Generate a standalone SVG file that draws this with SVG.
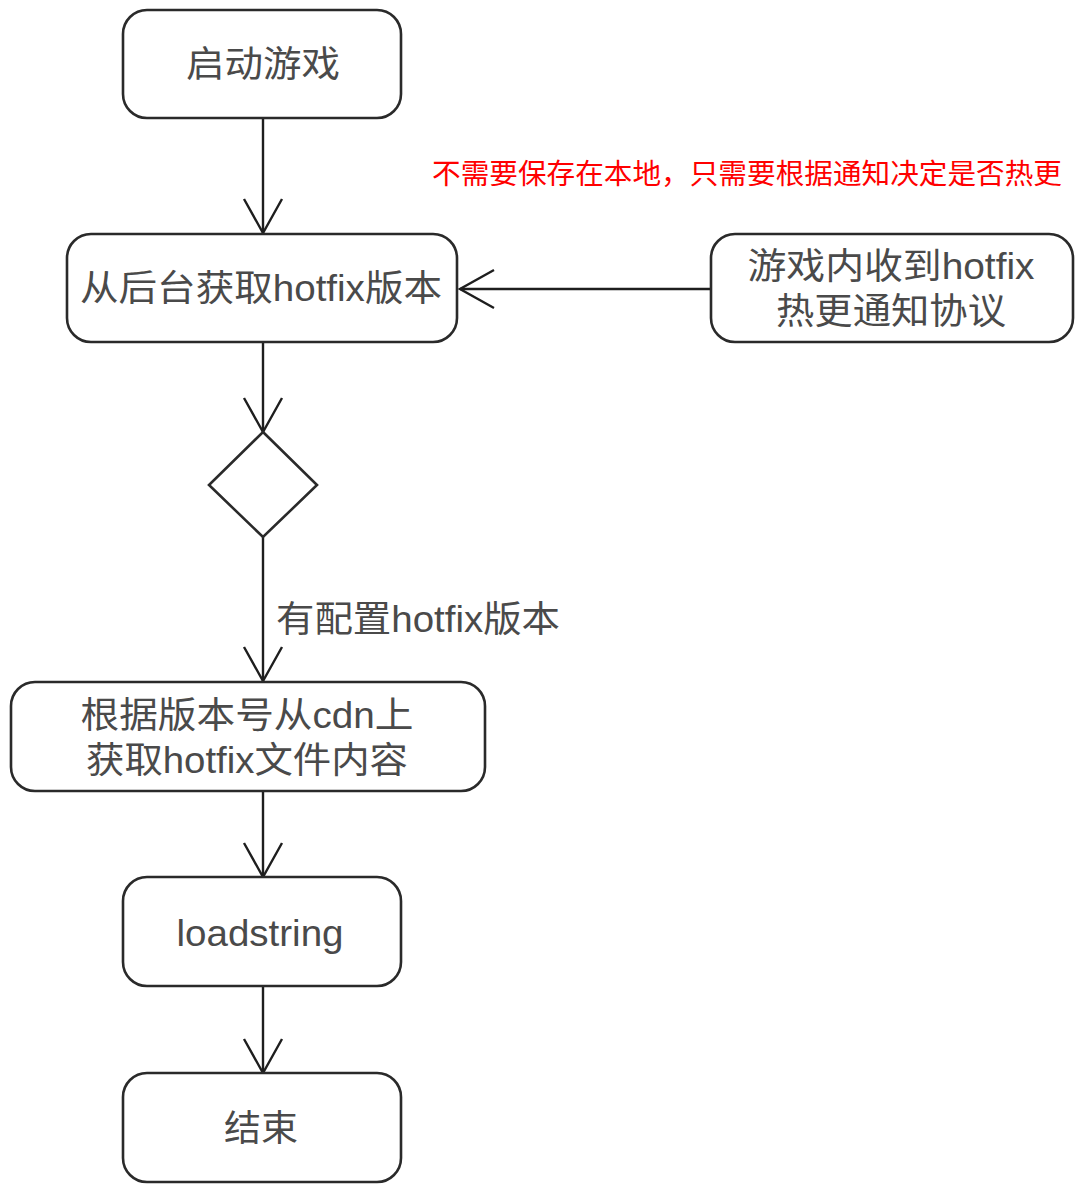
<svg xmlns="http://www.w3.org/2000/svg" width="1082" height="1190" viewBox="0 0 1082 1190">
  <style>
    .box { fill: #ffffff; stroke: #2a2a2a; stroke-width: 2.6; }
    .edge { fill: none; stroke: #1e1e1e; stroke-width: 2.4; }
    .lbl { font-family: "Liberation Sans", "Noto Sans CJK SC", sans-serif; font-size: 36px; fill: #4a4a4a; text-anchor: middle; dominant-baseline: central; }
    .note { font-family: "Noto Sans CJK SC", sans-serif; font-size: 28px; fill: #ff0000; dominant-baseline: central; }
  </style>
  <defs>
    <marker id="open-arrow" viewBox="-36 -21 38 42" markerWidth="38" markerHeight="42" refX="0" refY="0" orient="auto" markerUnits="userSpaceOnUse">
      <path d="M -34 -19 L 0 0 L -34 19" fill="none" stroke="#1e1e1e" stroke-width="2.4"/>
    </marker>
  </defs>
  <rect width="1082" height="1190" fill="#ffffff"/>

  <!-- connectors -->
  <g id="connectors">
    <line class="edge" x1="263" y1="118" x2="263" y2="233" marker-end="url(#open-arrow)"/>
    <line class="edge" x1="711" y1="289" x2="460" y2="289" marker-end="url(#open-arrow)"/>
    <line class="edge" x1="263" y1="342" x2="263" y2="432" marker-end="url(#open-arrow)"/>
    <line class="edge" x1="263" y1="537" x2="263" y2="681" marker-end="url(#open-arrow)"/>
    <line class="edge" x1="263" y1="791" x2="263" y2="877" marker-end="url(#open-arrow)"/>
    <line class="edge" x1="263" y1="986" x2="263" y2="1073" marker-end="url(#open-arrow)"/>
    <text class="lbl" x="418" y="619" textLength="284" lengthAdjust="spacingAndGlyphs">有配置hotfix版本</text>
  </g>

  <!-- nodes -->
  <g id="start">
    <rect class="box" x="123" y="10" width="278" height="108" rx="24"/>
    <text class="lbl" x="263" y="64" textLength="154" lengthAdjust="spacingAndGlyphs">启动游戏</text>
  </g>
  <g id="fetch-version">
    <rect class="box" x="67" y="234" width="390" height="108" rx="24"/>
    <text class="lbl" x="261" y="288" textLength="362" lengthAdjust="spacingAndGlyphs">从后台获取hotfix版本</text>
  </g>
  <g id="notify">
    <rect class="box" x="711" y="234" width="362" height="108" rx="24"/>
    <text class="lbl" x="891" y="266" textLength="287" lengthAdjust="spacingAndGlyphs">游戏内收到hotfix</text>
    <text class="lbl" x="891" y="311" textLength="230" lengthAdjust="spacingAndGlyphs">热更通知协议</text>
  </g>
  <g id="decision">
    <polygon class="box" points="263,432 317,485 263,537 209,485"/>
  </g>
  <g id="download">
    <rect class="box" x="11" y="682" width="474" height="109" rx="24"/>
    <text class="lbl" x="247" y="715" textLength="333" lengthAdjust="spacingAndGlyphs">根据版本号从cdn上</text>
    <text class="lbl" x="247" y="760" textLength="322" lengthAdjust="spacingAndGlyphs">获取hotfix文件内容</text>
  </g>
  <g id="loadstring">
    <rect class="box" x="123" y="877" width="278" height="109" rx="24"/>
    <text class="lbl" x="260" y="933" textLength="167" lengthAdjust="spacingAndGlyphs">loadstring</text>
  </g>
  <g id="end">
    <rect class="box" x="123" y="1073" width="278" height="109" rx="24"/>
    <text class="lbl" x="261" y="1128" textLength="74" lengthAdjust="spacingAndGlyphs">结束</text>
  </g>

  <!-- annotation -->
  <g id="note">
    <text class="note" x="432" y="172" textLength="630" lengthAdjust="spacingAndGlyphs">不需要保存在本地，只需要根据通知决定是否热更</text>
  </g>
</svg>
